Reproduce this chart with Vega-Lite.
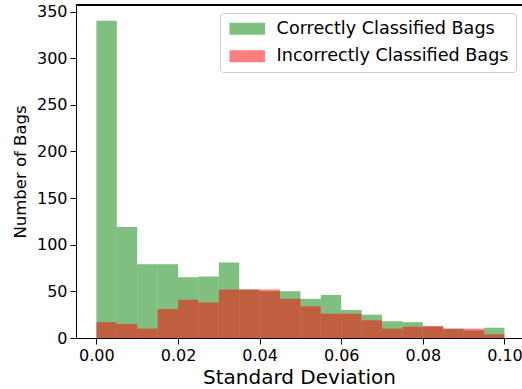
{
  "$schema": "https://vega.github.io/schema/vega-lite/v6.json",
  "autosize": {"type": "none"},
  "padding": {"left": 76, "top": 5, "right": 0, "bottom": 51},
  "width": 446,
  "height": 333,
  "config": {
    "font": "DejaVu Sans",
    "view": {"stroke": null},
    "axis": {"labelColor": "black", "titleColor": "black", "tickColor": "black", "domainColor": "black", "titleFontWeight": "normal", "grid": false, "labelFont": "DejaVu Sans", "titleFont": "DejaVu Sans"}
  },
  "data": {"values": [
    {"start": 0.000, "end": 0.005, "count": 340, "group": "Correctly Classified Bags"},
    {"start": 0.005, "end": 0.010, "count": 119, "group": "Correctly Classified Bags"},
    {"start": 0.010, "end": 0.015, "count": 79, "group": "Correctly Classified Bags"},
    {"start": 0.015, "end": 0.020, "count": 79, "group": "Correctly Classified Bags"},
    {"start": 0.020, "end": 0.025, "count": 65, "group": "Correctly Classified Bags"},
    {"start": 0.025, "end": 0.030, "count": 66, "group": "Correctly Classified Bags"},
    {"start": 0.030, "end": 0.035, "count": 81, "group": "Correctly Classified Bags"},
    {"start": 0.035, "end": 0.040, "count": 52, "group": "Correctly Classified Bags"},
    {"start": 0.040, "end": 0.045, "count": 50, "group": "Correctly Classified Bags"},
    {"start": 0.045, "end": 0.050, "count": 50, "group": "Correctly Classified Bags"},
    {"start": 0.050, "end": 0.055, "count": 42, "group": "Correctly Classified Bags"},
    {"start": 0.055, "end": 0.060, "count": 46, "group": "Correctly Classified Bags"},
    {"start": 0.060, "end": 0.065, "count": 30, "group": "Correctly Classified Bags"},
    {"start": 0.065, "end": 0.070, "count": 25, "group": "Correctly Classified Bags"},
    {"start": 0.070, "end": 0.075, "count": 18, "group": "Correctly Classified Bags"},
    {"start": 0.075, "end": 0.080, "count": 17, "group": "Correctly Classified Bags"},
    {"start": 0.080, "end": 0.085, "count": 12, "group": "Correctly Classified Bags"},
    {"start": 0.085, "end": 0.090, "count": 10, "group": "Correctly Classified Bags"},
    {"start": 0.090, "end": 0.095, "count": 8, "group": "Correctly Classified Bags"},
    {"start": 0.095, "end": 0.100, "count": 11, "group": "Correctly Classified Bags"},
    {"start": 0.000, "end": 0.005, "count": 17, "group": "Incorrectly Classified Bags"},
    {"start": 0.005, "end": 0.010, "count": 15, "group": "Incorrectly Classified Bags"},
    {"start": 0.010, "end": 0.015, "count": 10, "group": "Incorrectly Classified Bags"},
    {"start": 0.015, "end": 0.020, "count": 31, "group": "Incorrectly Classified Bags"},
    {"start": 0.020, "end": 0.025, "count": 41, "group": "Incorrectly Classified Bags"},
    {"start": 0.025, "end": 0.030, "count": 38, "group": "Incorrectly Classified Bags"},
    {"start": 0.030, "end": 0.035, "count": 52, "group": "Incorrectly Classified Bags"},
    {"start": 0.035, "end": 0.040, "count": 52, "group": "Incorrectly Classified Bags"},
    {"start": 0.040, "end": 0.045, "count": 52, "group": "Incorrectly Classified Bags"},
    {"start": 0.045, "end": 0.050, "count": 42, "group": "Incorrectly Classified Bags"},
    {"start": 0.050, "end": 0.055, "count": 34, "group": "Incorrectly Classified Bags"},
    {"start": 0.055, "end": 0.060, "count": 26, "group": "Incorrectly Classified Bags"},
    {"start": 0.060, "end": 0.065, "count": 26, "group": "Incorrectly Classified Bags"},
    {"start": 0.065, "end": 0.070, "count": 19, "group": "Incorrectly Classified Bags"},
    {"start": 0.070, "end": 0.075, "count": 10, "group": "Incorrectly Classified Bags"},
    {"start": 0.075, "end": 0.080, "count": 12, "group": "Incorrectly Classified Bags"},
    {"start": 0.080, "end": 0.085, "count": 13, "group": "Incorrectly Classified Bags"},
    {"start": 0.085, "end": 0.090, "count": 10, "group": "Incorrectly Classified Bags"},
    {"start": 0.090, "end": 0.095, "count": 10, "group": "Incorrectly Classified Bags"},
    {"start": 0.095, "end": 0.100, "count": 4, "group": "Incorrectly Classified Bags"}
  ]},
  "layer": [
    {
      "mark": {"type": "bar", "opacity": 0.5, "strokeWidth": 0},
      "encoding": {
        "x": {"field": "start", "type": "quantitative",
              "scale": {"domain": [-0.005, 0.1043], "nice": false, "zero": false},
              "axis": {"values": [0, 0.02, 0.04, 0.06, 0.08, 0.1], "format": ".2f", "title": "Standard Deviation",
                       "labelFontSize": 16, "titleFontSize": 20, "tickSize": 6, "labelPadding": 3, "titlePadding": 4, "labelFlush": false, "domainWidth": 1}},
        "x2": {"field": "end"},
        "y": {"field": "count", "type": "quantitative", "stack": null,
              "scale": {"domain": [0, 357], "nice": false},
              "axis": {"values": [0, 50, 100, 150, 200, 250, 300, 350], "title": "Number of Bags",
                       "labelFontSize": 16, "titleFontSize": 16.5, "tickSize": 6, "labelPadding": 3, "titlePadding": 8, "domainWidth": 1}},
        "y2": {"datum": 0},
        "color": {"field": "group", "type": "nominal",
                  "scale": {"domain": ["Correctly Classified Bags", "Incorrectly Classified Bags"], "range": ["#008000", "#ff0000"]},
                  "legend": {"title": null, "orient": "none", "legendX": 144, "legendY": 8,
                             "symbolType": "M-1.05,-1H4.88V1H-1.05Z", "symbolSize": 144, "symbolOpacity": 0.5, "symbolStrokeWidth": 0,
                             "labelFontSize": 17.6, "labelLimit": 400, "labelColor": "black", "labelOffset": 32, "rowPadding": 8.5, "padding": 7,
                             "strokeColor": "#cccccc", "fillColor": "rgba(255,255,255,0.8)", "cornerRadius": 3}}
      }
    },
    {
      "mark": {"type": "rule", "color": "black", "strokeWidth": 1},
      "encoding": {"y": {"datum": 357}}
    }
  ]
}
